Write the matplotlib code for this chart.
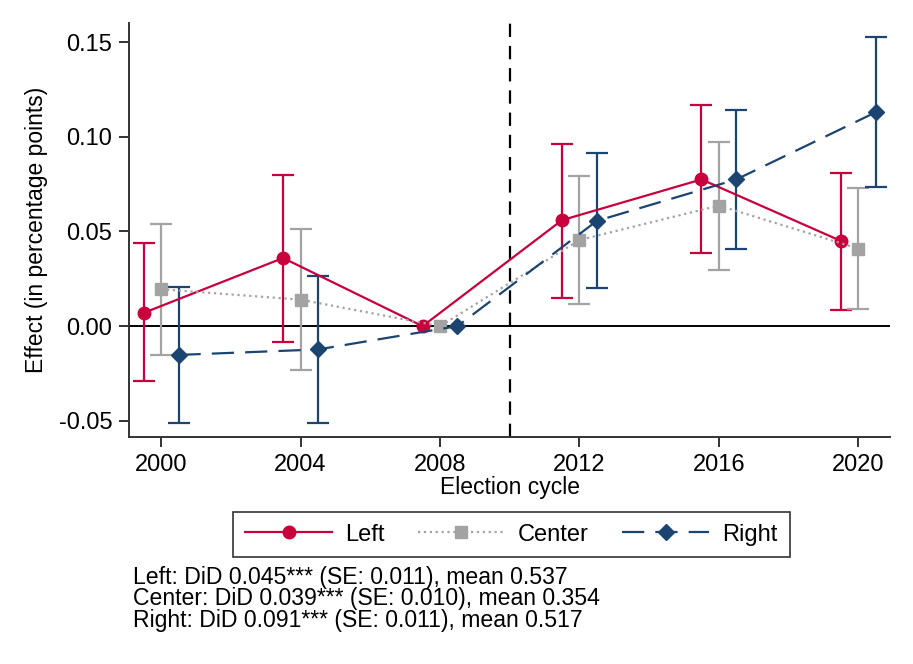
#!/usr/bin/env python3
import matplotlib
matplotlib.use("Agg")
import matplotlib.pyplot as plt

plt.rcParams["font.family"] = ["Liberation Sans", "DejaVu Sans"]

years = [2000, 2004, 2008, 2012, 2016, 2020]
series_names = ["Left", "Center", "Right"]

left_est = [0.007, 0.036, 0.0, 0.056, 0.0775, 0.045]
left_lo = [-0.029, -0.0085, None, 0.015, 0.0385, 0.0085]
left_hi = [0.0437, 0.080, None, 0.0963, 0.117, 0.081]

center_est = [0.0195, 0.014, 0.0, 0.0455, 0.0637, 0.041]
center_lo = [-0.015, -0.023, None, 0.0115, 0.0297, 0.0092]
center_hi = [0.054, 0.0515, None, 0.0795, 0.0975, 0.073]

right_est = [-0.0152, -0.0123, 0.0, 0.0556, 0.0775, 0.113]
right_lo = [-0.051, -0.051, None, 0.0201, 0.0407, 0.0736]
right_hi = [0.0208, 0.0267, None, 0.0914, 0.1143, 0.1525]

notes = [
    "Left: DiD 0.045*** (SE: 0.011), mean 0.537",
    "Center: DiD 0.039*** (SE: 0.010), mean 0.354",
    "Right: DiD 0.091*** (SE: 0.011), mean 0.517",
]

y_ticks = [-0.05, 0.0, 0.05, 0.10, 0.15]
y_tick_labels = ["-0.05", "0.00", "0.05", "0.10", "0.15"]
treatment_year = 2010

STYLES = {
    "Left": dict(color="#C8003C", marker="o", ms=9, ls="-", offset=-0.5),
    "Center": dict(color="#A3A3A3", marker="s", ms=9, ls=":", offset=0.0),
    "Right": dict(color="#1B4471", marker="D", ms=8.5, ls=(0, (10, 5)), offset=0.5),
}


def main() -> int:
    fig = plt.figure(figsize=(9.13, 6.64), dpi=100)
    ax = fig.add_axes([0.1413, 0.342, 0.834, 0.623])

    data = {
        "Left": (left_est, left_lo, left_hi),
        "Center": (center_est, center_lo, center_hi),
        "Right": (right_est, right_lo, right_hi),
    }

    ax.axhline(0, color="black", lw=1.4, zorder=1)
    ax.axvline(treatment_year, color="black", lw=1.6, dashes=(6, 4), zorder=1)

    handles = []
    for name in series_names:
        st = STYLES[name]
        est, lo, hi = data[name]
        xs = [y + st["offset"] for y in years]
        # confidence intervals (reference year has none)
        for x, e, l, h in zip(xs, est, lo, hi):
            if l is None:
                continue
            ax.errorbar([x], [e], yerr=[[e - l], [h - e]], fmt="none",
                        ecolor=st["color"], elinewidth=1.6, capsize=8,
                        capthick=1.6, zorder=2)
        (ln,) = ax.plot(xs, est, color=st["color"], ls=st["ls"], lw=1.6,
                        marker=st["marker"], ms=st["ms"],
                        markeredgecolor=st["color"], zorder=3, label=name)
        handles.append(ln)

    ax.set_xlim(1999.08, 2020.92)
    ax.set_ylim(-0.0585, 0.160)
    ax.set_xticks(years)
    ax.set_xticklabels([str(y) for y in years])
    ax.set_yticks(y_ticks)
    ax.set_yticklabels(y_tick_labels)

    for side in ("top", "right"):
        ax.spines[side].set_visible(False)
    for side in ("left", "bottom"):
        ax.spines[side].set_color("#333333")
        ax.spines[side].set_linewidth(1.4)
    ax.tick_params(axis="both", labelsize=17, length=7, width=1.4,
                   color="#333333", pad=5)

    ax.set_xlabel("Election cycle", fontsize=16.5, labelpad=0)
    ax.set_ylabel("Effect (in percentage points)", fontsize=16.5, labelpad=8)

    leg = fig.legend(handles=handles, loc="center",
                     bbox_to_anchor=(0.560, 0.195), ncol=3, fontsize=17,
                     frameon=True, fancybox=False, edgecolor="black",
                     handlelength=3.7, columnspacing=1.4, handletextpad=0.55,
                     borderpad=0.5, borderaxespad=0.3)
    leg.get_frame().set_linewidth(1.2)

    for i, line in enumerate(notes):
        fig.text(0.1457, 1 - (577.5 + i * 21.5) / 664, line, fontsize=16.6,
                 ha="left", va="center")

    fig.savefig("out.png", dpi=100)
    plt.close(fig)
    return 0


if __name__ == "__main__":
    raise SystemExit(main())
